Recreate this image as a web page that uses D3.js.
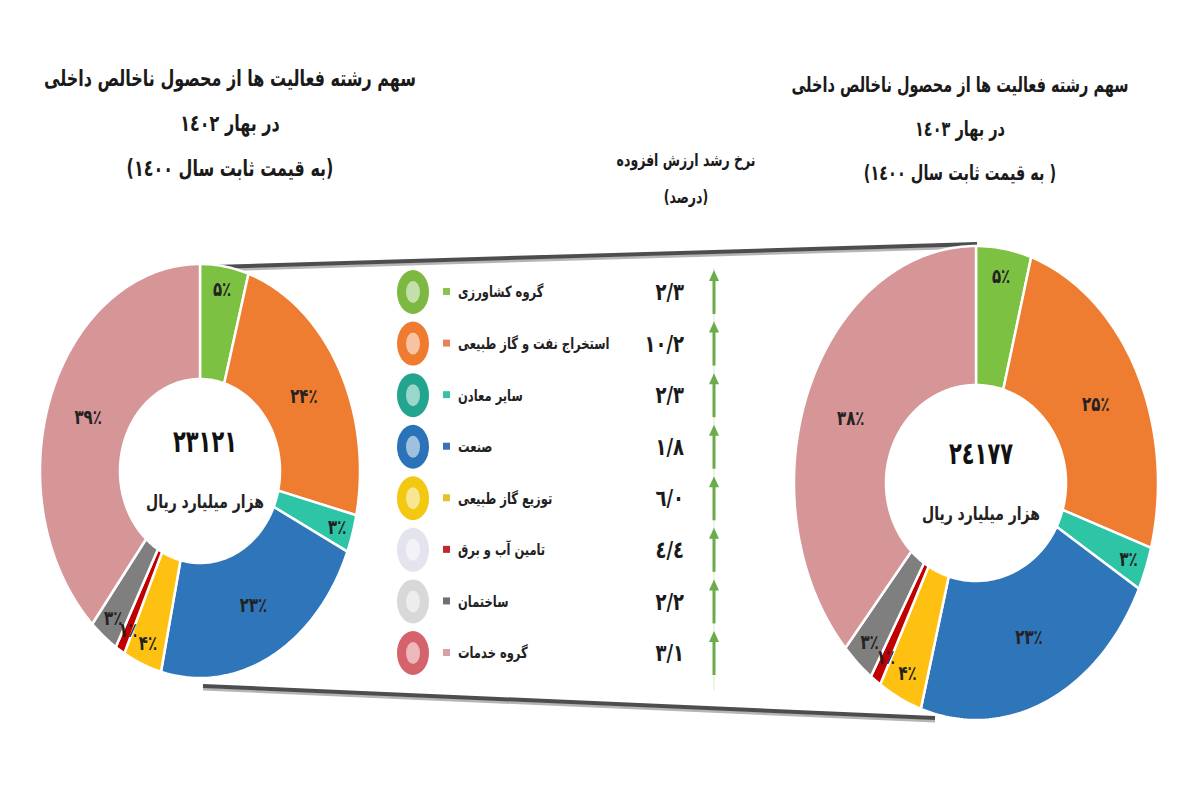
<!DOCTYPE html>
<html lang="fa">
<head>
<meta charset="utf-8">
<script src="https://cdn.jsdelivr.net/npm/d3@7"></script>
<style>
  body { margin: 0; background: #fff; }
  svg text { font-family: "DejaVu Sans", "Noto Sans", sans-serif; }
</style>
</head>
<body>
<svg id="chart" width="1200" height="800"></svg>
<script>
// ---------- data ----------
const sectors = ["گروه کشاورزی", "استخراج نفت و گاز طبیعی", "سایر معادن", "صنعت",
                 "توزیع گاز طبیعی", "تامین آب و برق", "ساختمان", "گروه خدمات"];
const share1402 = [5, 24, 3, 23, 4, 1, 3, 39];
const share1403 = [5, 25, 3, 23, 4, 1, 3, 38];
const growth = [2.3, 10.2, 2.3, 1.8, 6.0, 4.4, 2.2, 3.1];
const total1402 = 23121;
const total1403 = 24177;
const titleLeft = ["سهم رشته فعالیت ها از محصول ناخالص داخلی", "در بهار ١٤٠٢", "(به قیمت ثابت سال ١٤٠٠)"];
const titleRight = ["سهم رشته فعالیت ها از محصول ناخالص داخلی", "در بهار ١٤٠٣", "( به قیمت ثابت سال ١٤٠٠)"];
const growthTitle = ["نرخ رشد ارزش افزوده", "(درصد)"];
const unitLabel = "هزار میلیارد ریال";

// ---------- styles ----------
const sliceColor = ["#7dc142", "#ef7d31", "#2ec4a6", "#2f75ba", "#ffc111", "#c00000", "#7f7f7f", "#d69596"];
const iconColor  = ["#7db843", "#ee7b30", "#22a58f", "#2b73b8", "#f2c811", "#e4e4ee", "#d8d8d8", "#d4636b"];
const markColor  = ["#8cc152", "#e8825a", "#38c1a8", "#3c6fb5", "#e5c22a", "#c0282d", "#707070", "#d9a0a3"];

const faDigits = "۰۱۲۳۴۵۶۷۸۹", arDigits = "٠١٢٣٤٥٦٧٨٩";
const toFa = s => String(s).replace(/\d/g, d => faDigits[d]);
const toAr = s => String(s).replace(/\d/g, d => arDigits[d]);

const svg = d3.select("#chart");
const color = d3.scaleOrdinal().domain(sectors).range(sliceColor);

// the source font is tall and narrow, so text is stretched vertically
const at = (x, y, k) => `translate(${x},${y}) scale(1,${k})`;

// ---------- connector lines (drawn first, under the donuts) ----------
function connector(x1, y1, x2, y2) {
  const g = svg.append("g");
  g.append("line").attr("x1", x1).attr("y1", y1 + 3).attr("x2", x2).attr("y2", y2 + 3)
    .attr("stroke", "#b5b5b5").attr("stroke-width", 3);
  g.append("line").attr("x1", x1).attr("y1", y1).attr("x2", x2).attr("y2", y2)
    .attr("stroke", "#4d4d4d").attr("stroke-width", 4);
}
connector(213, 267, 977, 244);
connector(203, 686, 935, 718);

// ---------- donuts ----------
const pie = d3.pie().sort(null).value(d => d.v);

function ringPoint(cx, cy, r, a) { return [cx + r.x * Math.sin(a), cy - r.y * Math.cos(a)]; }

function ringPath(c, a0, a1) {
  const n = Math.max(2, Math.ceil((a1 - a0) / 0.02));
  const angles = d3.range(n + 1).map(i => a0 + (a1 - a0) * i / n);
  const pts = angles.map(a => ringPoint(c.cx, c.cy, c.ro, a))
    .concat(angles.slice().reverse().map(a => ringPoint(c.cx, c.cy, c.ri, a)));
  return d3.line()(pts) + "Z";
}

function donut(values, total, c) {
  const data = pie(values.map((v, i) => ({ v, name: sectors[i] })));
  const g = svg.append("g");

  g.selectAll("path.slice").data(data).enter().append("path")
    .attr("class", "slice")
    .attr("d", d => ringPath(c, d.startAngle, d.endAngle))
    .attr("fill", d => color(d.data.name))
    .attr("stroke", "#fff").attr("stroke-width", 2.5).attr("stroke-linejoin", "round");

  g.selectAll("text.pct").data(data).enter().append("text")
    .attr("class", "pct")
    .attr("transform", d => {
      const a = (d.startAngle + d.endAngle) / 2;
      const t = d.data.v >= 10 ? 0.5 : 0.8;
      const r = { x: c.ri.x + t * (c.ro.x - c.ri.x), y: c.ri.y + t * (c.ro.y - c.ri.y) };
      const p = ringPoint(c.cx, c.cy, r, a);
      return at(p[0], p[1], 1.35);
    })
    .attr("text-anchor", "middle").attr("dy", "0.35em")
    .attr("font-size", 15).attr("font-weight", "bold").attr("fill", "#222")
    .text(d => toFa(d.data.v) + "٪");

  g.append("text").attr("transform", at(c.cx + 5, c.cy - 30, 1.45))
    .attr("text-anchor", "middle").attr("dy", "0.35em")
    .attr("font-size", 21).attr("font-weight", "bold").attr("fill", "#111")
    .text(toAr(total));
  g.append("text").attr("transform", at(c.cx + 5, c.cy + 30, 1.35))
    .attr("text-anchor", "middle").attr("dy", "0.35em").attr("direction", "rtl")
    .attr("font-size", 14).attr("font-weight", "bold").attr("fill", "#222")
    .text(unitLabel);
}

donut(share1402, total1402, { cx: 200, cy: 471, ro: { x: 160, y: 207 }, ri: { x: 80, y: 92 } });
donut(share1403, total1403, { cx: 976, cy: 483, ro: { x: 182, y: 237 }, ri: { x: 90, y: 98 } });

// ---------- titles ----------
function title(lines, x, y0, gap, size, k) {
  svg.append("g").selectAll("text").data(lines).enter().append("text")
    .attr("transform", (d, i) => at(x, y0 + i * gap, k))
    .attr("text-anchor", "middle").attr("dy", "0.35em").attr("direction", "rtl")
    .attr("font-size", size).attr("font-weight", "bold").attr("fill", "#1a1a1a")
    .text(d => d);
}
title(titleLeft, 230, 78, 45, 16, 1.4);
title(titleRight, 960, 85, 44, 14.5, 1.45);
title(growthTitle, 686, 160, 37, 12.5, 1.4);

// ---------- legend / growth table ----------
const y = d3.scalePoint().domain(sectors).range([292, 653]);

svg.append("line").attr("x1", 714).attr("x2", 714).attr("y1", 268).attr("y2", 690)
  .attr("stroke", "#d6ecc8").attr("stroke-width", 1);

const rows = svg.append("g").selectAll("g.row").data(sectors).enter().append("g")
  .attr("class", "row")
  .attr("transform", d => `translate(0,${y(d)})`);

rows.append("ellipse").attr("cx", 413).attr("cy", 0).attr("rx", 16).attr("ry", 22)
  .attr("fill", (d, i) => iconColor[i]);
rows.append("ellipse").attr("cx", 413).attr("cy", 0).attr("rx", 7).attr("ry", 11)
  .attr("fill", "#fff").attr("opacity", 0.55);

rows.append("rect").attr("x", 443).attr("y", -4).attr("width", 7).attr("height", 7)
  .attr("fill", (d, i) => markColor[i]);

rows.append("text").attr("transform", at(458, 0, 1.35)).attr("dy", "0.35em")
  .attr("direction", "rtl").attr("text-anchor", "end")
  .attr("font-size", 11.5).attr("font-weight", "bold").attr("fill", "#222")
  .text(d => d);

rows.append("text").attr("transform", at(684, 0, 1.3)).attr("dy", "0.35em")
  .attr("text-anchor", "end")
  .attr("font-size", 18).attr("font-weight", "bold").attr("fill", "#1a1a1a")
  .text((d, i) => toAr(d3.format(".1f")(growth[i])).replace(".", "/"));

rows.append("line").attr("x1", 714).attr("x2", 714).attr("y1", 22).attr("y2", -12)
  .attr("stroke", "#6aab4b").attr("stroke-width", 3);
rows.append("path").attr("d", "M714,-22L709,-11L719,-11Z").attr("fill", "#6aab4b");
</script>
</body>
</html>
